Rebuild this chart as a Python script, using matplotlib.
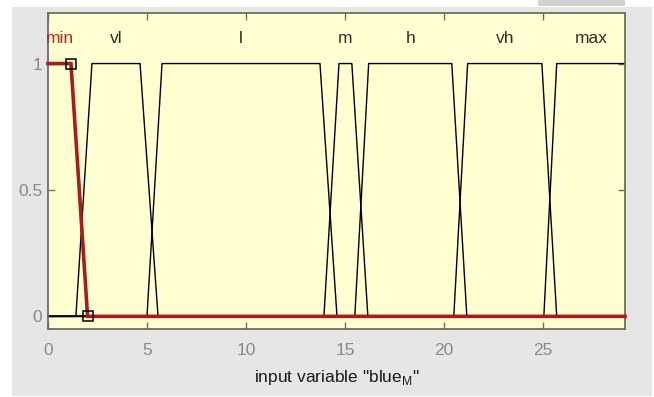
import matplotlib
matplotlib.use("Agg")
import matplotlib.pyplot as plt
from matplotlib.patches import Rectangle
import numpy as np

# ---- data ----
x_range = [0.0, 29.15]
mf_names = ["min", "vl", "l", "m", "h", "vh", "max"]
# trapezoid parameters [a, b, c, d]
mf_params = [
    [-1.0, 0.0, 1.16, 2.0],
    [1.41, 2.22, 4.65, 5.56],
    [5.0, 5.76, 13.74, 14.6],
    [13.94, 14.7, 15.35, 16.16],
    [15.5, 16.2, 20.4, 21.16],
    [20.5, 21.2, 24.95, 25.7],
    [25.05, 25.7, 29.15, 30.0],
]
selected = "min"
x_ticks = [0, 5, 10, 15, 20, 25]
y_ticks = [0, 0.5, 1]
y_tick_labels = ["0", "0.5", "1"]
x_label = 'input variable "blue$_{\\mathregular{M}}$"'

FONT = ["Liberation Sans", "DejaVu Sans"]
plt.rcParams["font.family"] = FONT
plt.rcParams["mathtext.fontset"] = "custom"
plt.rcParams["mathtext.rm"] = "Liberation Sans"

fig = plt.figure(figsize=(6.54, 3.97), dpi=100, facecolor="white")
W, H = 654.0, 397.0
# grey window background
fig.patches.append(Rectangle((12 / W, 1 - 396 / H), 640 / W, 389 / H,
                             transform=fig.transFigure, facecolor="#e6e6e6",
                             edgecolor="none", zorder=-10))
fig.patches.append(Rectangle((538 / W, 1 - 6 / H), 87 / W, 6 / H,
                             transform=fig.transFigure, facecolor="#d2d2d2",
                             edgecolor="none", zorder=-10))

ax = fig.add_axes([48 / W, 1 - 329 / H, 577 / W, 316 / H])
ax.set_zorder(1)
ax.set_facecolor("#ffffd2")
ax.set_xlim(x_range)
ax.set_ylim(-0.05, 1.2)


def trap_pts(p):
    a, b, c, d = p
    xs = [x_range[0], a, b, c, d, x_range[1]]
    xs = np.clip(xs, x_range[0], x_range[1])
    ys = []
    for xv in xs:
        if xv <= a or xv >= d:
            y = 0.0
        elif b <= xv <= c:
            y = 1.0
        elif xv < b:
            y = (xv - a) / (b - a)
        else:
            y = (d - xv) / (d - c)
        ys.append(y)
    if a < x_range[0] and b <= x_range[0]:
        ys[0] = 1.0
    if d > x_range[1] and c >= x_range[1]:
        ys[-1] = 1.0
    return xs, ys


for name, p in zip(mf_names, mf_params):
    if name == selected:
        continue
    xs, ys = trap_pts(p)
    ax.plot(xs, ys, color="black", lw=1.0, zorder=2, clip_on=False)

for name, p in zip(mf_names, mf_params):
    if name != selected:
        continue
    xs, ys = trap_pts(p)
    ax.plot(xs, ys, color="#a81c1a", lw=2.6, zorder=3, clip_on=False,
            solid_joinstyle="miter")
    ax.plot([p[2], p[3]], [1, 0], ls="none", marker="s", ms=6.5,
            mfc="none", mec="black", mew=1.1, zorder=4)

for name, p in zip(mf_names, mf_params):
    lo = max(p[1], x_range[0])
    hi = min(p[2], x_range[1])
    ax.text((lo + hi) / 2, 1.1, name, ha="center", va="center",
            fontsize=12.5, color="#c8201c" if name == selected else "#2e2e24")

ax.set_xticks(x_ticks)
ax.set_xticklabels([str(t) for t in x_ticks])
ax.set_yticks(y_ticks)
ax.set_yticklabels(y_tick_labels)
ax.tick_params(direction="in", length=5, width=1.0, color="#707060",
               labelcolor="#8a8a8a", labelsize=12.5, top=True, right=True)
ax.tick_params(axis="x", pad=10)
ax.tick_params(axis="y", pad=4)
for s in ax.spines.values():
    s.set_color("#6e6e5e")
    s.set_linewidth(1.3)

ax.set_xlabel(x_label, fontsize=12.5, color="#1a1a1a", labelpad=7)

fig.savefig("out.png", dpi=100, facecolor="white")
